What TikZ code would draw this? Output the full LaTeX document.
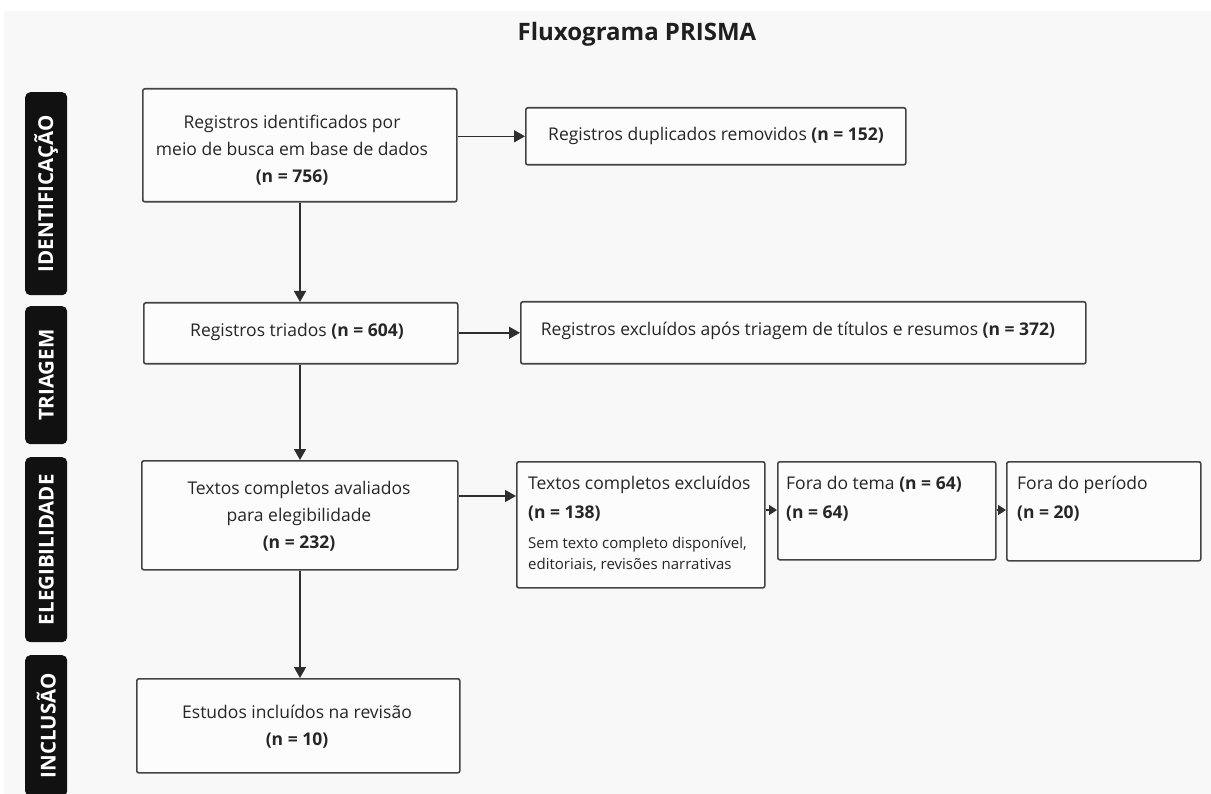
\documentclass[tikz,border=0pt]{standalone}
\usepackage{fontspec}
\setmainfont{Open Sans}
\usetikzlibrary{arrows.meta,calc}
\definecolor{bg}{HTML}{F8F8F8}
\definecolor{boxfill}{HTML}{FCFCFC}
\definecolor{linec}{HTML}{444444}
\definecolor{arrc}{HTML}{2E2E2E}
\definecolor{txtc}{HTML}{262626}
\definecolor{tagc}{HTML}{111111}
\begin{document}
\begin{tikzpicture}[x=1pt,y=-1pt,
  box/.style={draw=linec,line width=1.6pt,fill=boxfill,rounded corners=2pt,inner sep=0pt,anchor=north west},
  tag/.style={fill=tagc,rounded corners=5pt,inner sep=0pt,anchor=north west,minimum width=42pt},
  tagtext/.style={text=white,font=\fontsize{20.5}{20.5}\selectfont\bfseries,rotate=90,inner sep=0pt},
  txt/.style={text=txtc,font=\fontsize{17.5}{27}\selectfont,align=center,inner sep=0pt},
  smalltxt/.style={text=txtc,font=\fontsize{15}{21}\selectfont,align=left,inner sep=0pt,anchor=north west},
  arr/.style={draw=arrc,line width=1.5pt,-{Triangle[length=11pt,width=12pt]}},
  sarr/.style={draw=arrc,line width=1.5pt,-{Triangle[length=8pt,width=10pt]}}]

\useasboundingbox (0,0) rectangle (1211,794);
\fill[white] (0,0) rectangle (1211,794);
\fill[bg] (4,11) rectangle (1211,794);

% title
\node[font=\fontsize{24}{24}\selectfont\bfseries,text=black!88,inner sep=0pt] (title) at (637,34) {Fluxograma PRISMA};

% phase tags
\node[tag,minimum height=203pt] (l1) at (25,92) {};
\node[tagtext] (l1t) at (l1.center) {IDENTIFICAÇÃO};
\node[tag,minimum height=138pt] (l2) at (25,306) {};
\node[tagtext] (l2t) at (l2.center) {TRIAGEM};
\node[tag,minimum height=185pt] (l3) at (25,457) {};
\node[tagtext] (l3t) at (l3.center) {ELEGIBILIDADE};
\node[tag,minimum height=141pt] (l4) at (25,655) {};
\node[tagtext] (l4t) at (l4.center) {INCLUSÃO};

% boxes
\node[box,minimum width=314pt,minimum height=113pt] (b1) at (142,88) {};
\node[box,minimum width=380pt,minimum height=57pt] (b2) at (525,107) {};
\node[box,minimum width=314pt,minimum height=61pt] (b3) at (143,302) {};
\node[box,minimum width=565pt,minimum height=62pt] (b4) at (520,301) {};
\node[box,minimum width=316pt,minimum height=109pt] (b5) at (141,460) {};
\node[box,minimum width=248pt,minimum height=126pt] (b6) at (516,461) {};
\node[box,minimum width=218pt,minimum height=98pt] (b7) at (777,461) {};
\node[box,minimum width=194pt,minimum height=99pt] (b8) at (1006,461) {};
\node[box,minimum width=323pt,minimum height=94pt] (b9) at (136,678) {};

% texts
\node[txt] (t1) at (292,150) {Registros identificados por\\meio de busca em base de dados\\\textbf{(n = 756)}};
\node[txt] (t2) at (716,136) {Registros duplicados removidos \textbf{(n = 152)}};
\node[txt] (t3) at (297,332) {Registros triados \textbf{(n = 604)}};
\node[txt] (t4) at (798,331) {Registros excluídos após triagem de títulos e resumos \textbf{(n = 372)}};
\node[txt] (t5) at (299,516) {Textos completos avaliados\\para elegibilidade\\\textbf{(n = 232)}};
\node[txt,align=left,anchor=north west,font=\fontsize{17.5}{29}\selectfont] (t6) at (528,476) {Textos completos excluídos\\\textbf{(n = 138)}};
\node[smalltxt] (t6b) at (528,537) {Sem texto completo disponível,\\editoriais, revisões narrativas};
\node[txt,align=left,anchor=north west,font=\fontsize{17.5}{29}\selectfont] (t7) at (786,476) {Fora do tema \textbf{(n = 64)}\\\textbf{(n = 64)}};
\node[txt,align=left,anchor=north west,font=\fontsize{17.5}{29}\selectfont] (t8) at (1017,476) {Fora do período\\\textbf{(n = 20)}};
\node[txt] (t9) at (297,727) {Estudos incluídos na revisão\\\textbf{(n = 10)}};

% connectors
\coordinate (v) at (300,0);
\draw[arr] (b1.south -| v) -- (b3.north -| v);
\draw[arr] (b3.south -| v) -- (b5.north -| v);
\draw[arr] (b5.south -| v) -- (b9.north -| v);
\draw[arr] (b1.east |- b2.west) -- (b2.west);
\draw[arr] (b3.east |- b4.west) -- (b4.west);
\coordinate (a6) at (516,496);
\draw[arr] (b5.east |- a6) -- (a6);
\coordinate (a7) at (777,510);
\draw[sarr] (b6.east |- a7) -- (a7);
\coordinate (a8) at (1006,510);
\draw[sarr] (b7.east |- a8) -- (a8);
\end{tikzpicture}
\end{document}
